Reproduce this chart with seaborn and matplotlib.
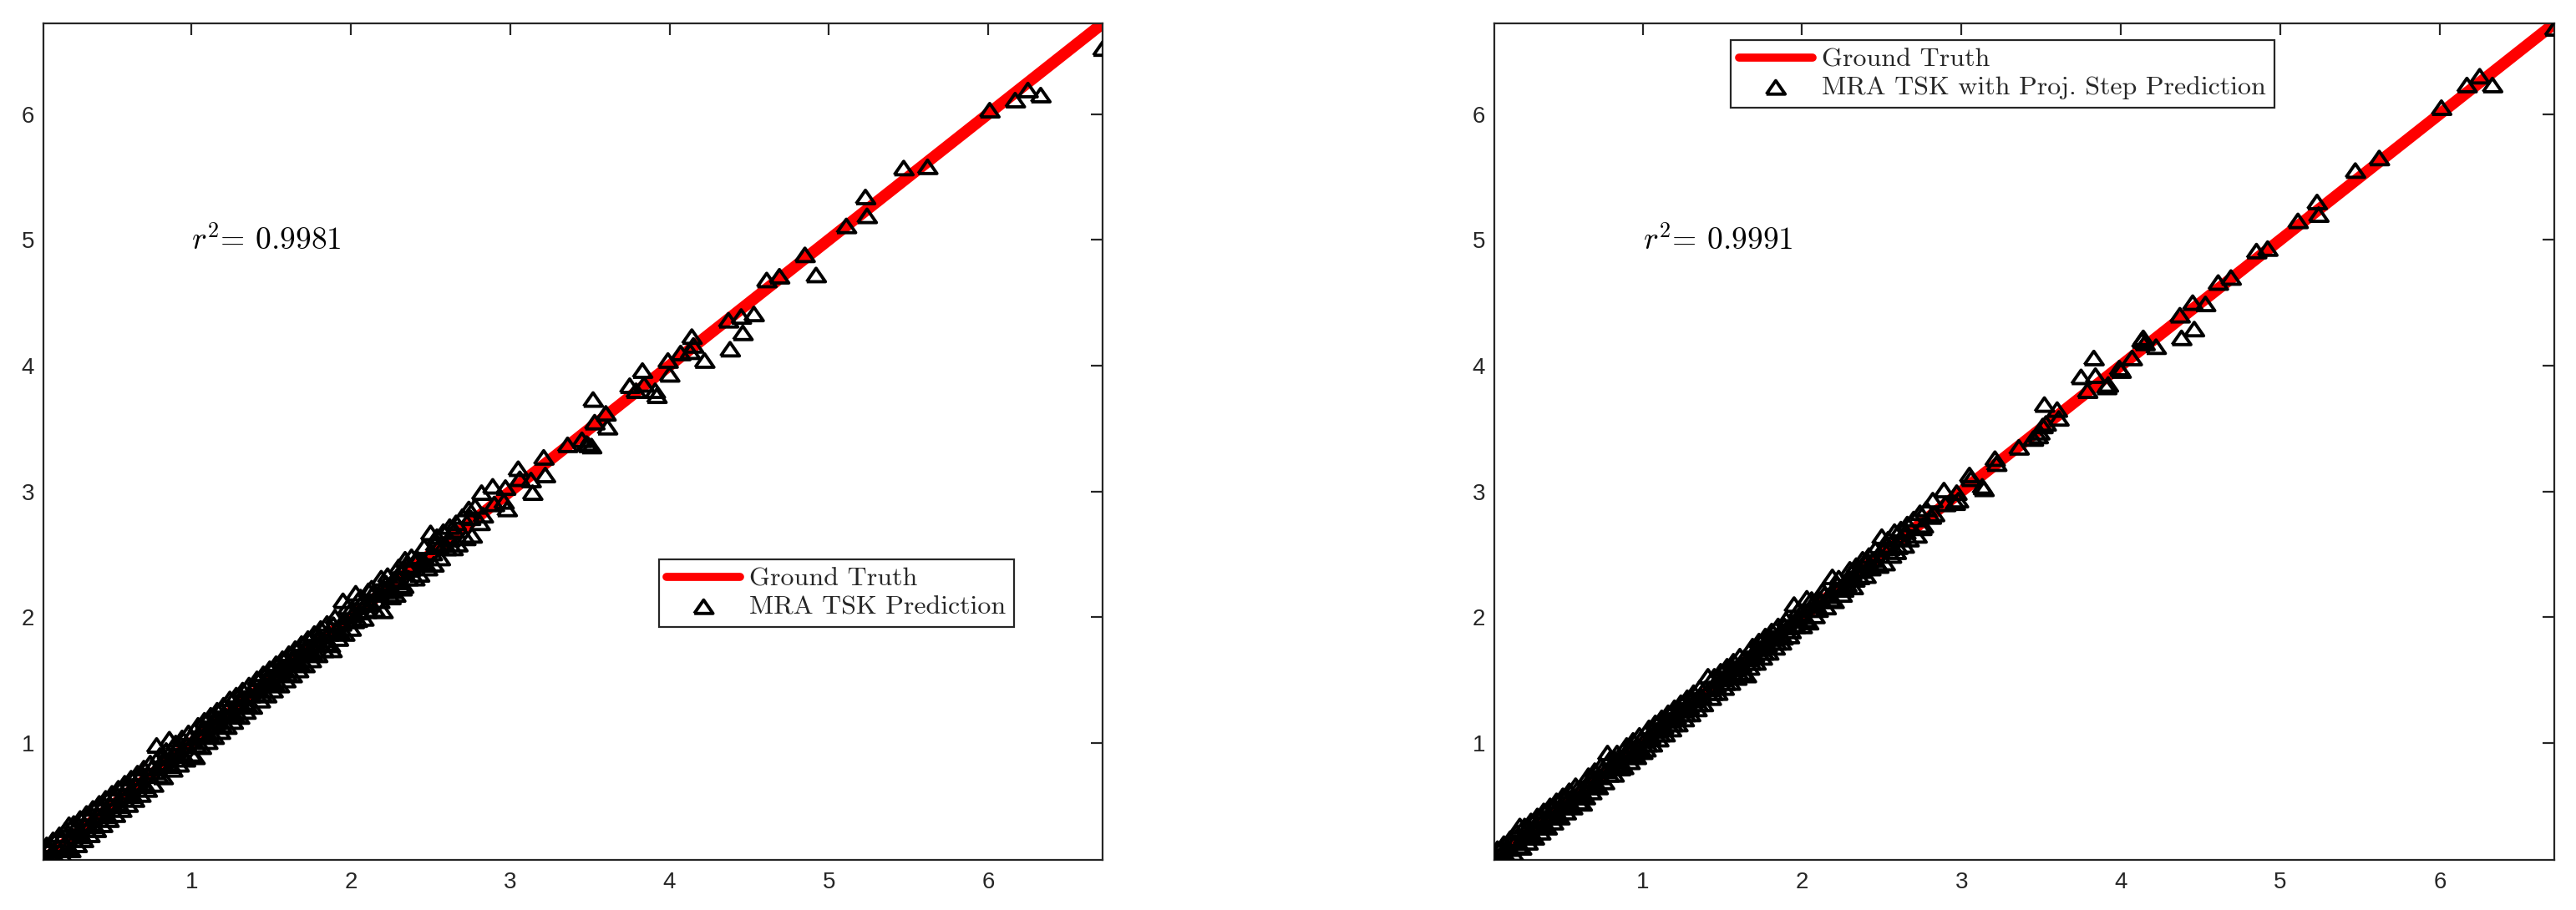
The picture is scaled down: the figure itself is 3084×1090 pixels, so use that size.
import matplotlib
matplotlib.use('Agg')
import matplotlib.pyplot as plt
import pandas as pd
import seaborn as sns

# ground truth values (shared by both panels) and the two sets of predictions
truth = [
    # dense low range, outer rows either side of the line
    0.07, 0.09, 0.11, 0.13, 0.15, 0.17, 0.19, 0.21, 0.23, 0.24,
    0.26, 0.28, 0.30, 0.32, 0.34, 0.36, 0.38, 0.40, 0.42, 0.44,
    0.46, 0.48, 0.50, 0.52, 0.54, 0.56, 0.58, 0.60, 0.62, 0.64,
    0.66, 0.68, 0.70, 0.72, 0.74, 0.76, 0.78, 0.80, 0.82, 0.84,
    0.86, 0.88, 0.90, 0.92, 0.94, 0.96, 0.98, 1.00, 1.02, 1.04,
    1.06, 1.08, 1.10, 1.12, 1.14, 1.16, 1.18, 1.20, 1.22, 1.24,
    1.26, 1.28, 1.30, 1.32, 1.34, 1.36, 1.38, 1.41, 1.43, 1.45,
    1.47, 1.49, 1.51, 1.53, 1.55, 1.57, 1.59, 1.61, 1.63, 1.65,
    1.67, 1.69, 1.71, 1.73, 1.75, 1.77, 1.79, 1.81, 1.83, 1.85,
    1.87, 1.90, 1.92, 1.98, 2.00, 2.06, 2.08, 2.13, 2.15, 2.23,
    2.25, 2.30, 2.32, 2.38, 2.40, 2.46, 2.48, 2.54, 2.56, 2.62,
    2.64, 2.70, 2.72, 2.78,
    # dense low range, inner rows
    0.10, 0.14, 0.18, 0.22, 0.27, 0.31, 0.35, 0.39, 0.43, 0.47,
    0.51, 0.55, 0.59, 0.63, 0.67, 0.71, 0.75, 0.79, 0.83, 0.87,
    0.91, 0.95, 0.99, 1.03, 1.07, 1.11, 1.15, 1.19, 1.23, 1.27,
    1.31, 1.35, 1.39, 1.44, 1.48, 1.52, 1.56, 1.60, 1.64, 1.68,
    1.72, 1.76, 1.80, 1.84, 1.89, 1.93, 1.99, 2.02, 2.07, 2.10,
    2.14, 2.18, 2.22, 2.26, 2.31, 2.36, 2.41, 2.47, 2.53, 2.60,
    # dense low range, close to the line
    0.08, 0.12, 0.16, 0.20, 0.25, 0.29, 0.33, 0.37, 0.41, 0.45,
    0.49, 0.53, 0.57, 0.61, 0.65, 0.69, 0.73, 0.77, 0.81, 0.85,
    0.89, 0.93, 0.97, 1.01, 1.05, 1.09, 1.13, 1.17, 1.21, 1.25,
    1.29, 1.33, 1.37, 1.42, 1.46, 1.50, 1.54, 1.58, 1.62, 1.66,
    1.70, 1.74, 1.78, 1.82, 1.86, 1.91, 1.94, 1.97, 2.01, 2.05,
    2.09, 2.12, 2.17, 2.21, 2.24, 2.29, 2.37, 2.45, 2.55, 2.62,
    # middle and upper range
    1.88, 1.96, 2.04, 1.95, 2.03, 2.11, 2.19, 2.27, 2.33, 2.28,
    2.20, 2.34, 2.35, 2.42, 2.51, 2.52, 2.43, 2.50, 2.58, 2.65,
    2.59, 2.67, 2.76, 2.74, 2.75, 2.83, 2.81, 2.66, 2.82, 2.89,
    2.97, 2.90, 2.96, 2.98, 3.05, 3.06, 3.13, 3.14, 3.21, 3.22,
    3.36, 3.45, 3.48, 3.49, 3.51, 3.52, 3.53, 3.60, 3.61, 3.75,
    3.79, 3.83, 3.84, 3.91, 3.92, 3.99, 4.00, 4.07, 4.13, 4.14,
    4.15, 4.22, 4.37, 4.38, 4.45, 4.46, 4.53, 4.61, 4.69, 4.85,
    4.92, 5.11, 5.23, 5.24, 5.47, 5.62, 6.01, 6.17, 6.25, 6.33,
    6.72,
]

pred_mra = [
    0.07, 0.19, 0.06, 0.23, 0.08, 0.27, 0.10, 0.31, 0.35, 0.15,
    0.36, 0.19, 0.40, 0.23, 0.44, 0.27, 0.48, 0.31, 0.52, 0.35,
    0.56, 0.39, 0.60, 0.43, 0.64, 0.47, 0.68, 0.51, 0.72, 0.55,
    0.76, 0.59, 0.80, 0.63, 0.84, 0.67, 0.98, 0.90, 0.73, 0.94,
    1.03, 0.79, 1.00, 0.83, 1.04, 0.87, 1.08, 0.91, 0.89, 1.14,
    0.97, 1.18, 1.01, 1.22, 1.05, 1.26, 1.09, 1.30, 1.13, 1.35,
    1.17, 1.38, 1.21, 1.42, 1.25, 1.46, 1.29, 1.51, 1.34, 1.55,
    1.38, 1.59, 1.42, 1.63, 1.46, 1.67, 1.50, 1.71, 1.54, 1.75,
    1.58, 1.79, 1.62, 1.83, 1.66, 1.87, 1.70, 1.91, 1.74, 1.95,
    1.78, 2.00, 1.83, 2.08, 1.91, 2.16, 1.99, 2.23, 2.06, 2.33,
    2.16, 2.40, 2.23, 2.48, 2.31, 2.56, 2.39, 2.64, 2.47, 2.72,
    2.55, 2.80, 2.63, 2.88,
    0.15, 0.09, 0.23, 0.17, 0.32, 0.26, 0.40, 0.34, 0.48, 0.42,
    0.56, 0.50, 0.64, 0.58, 0.72, 0.66, 0.80, 0.74, 0.88, 0.82,
    0.96, 0.90, 1.04, 0.98, 1.12, 1.06, 1.20, 1.14, 1.28, 1.22,
    1.36, 1.30, 1.44, 1.39, 1.53, 1.47, 1.61, 1.55, 1.69, 1.63,
    1.77, 1.71, 1.85, 1.79, 1.94, 1.88, 2.04, 1.97, 2.12, 2.05,
    2.19, 2.13, 2.27, 2.21, 2.36, 2.31, 2.46, 2.42, 2.58, 2.55,
    0.09, 0.12, 0.17, 0.19, 0.26, 0.29, 0.34, 0.36, 0.42, 0.45,
    0.50, 0.52, 0.58, 0.61, 0.66, 0.68, 0.74, 0.77, 0.82, 0.84,
    0.90, 0.92, 0.98, 1.01, 1.06, 1.08, 1.14, 1.17, 1.22, 1.24,
    1.30, 1.32, 1.38, 1.42, 1.47, 1.49, 1.55, 1.58, 1.63, 1.65,
    1.71, 1.73, 1.79, 1.82, 1.87, 1.90, 1.95, 1.97, 2.02, 2.04,
    2.10, 2.11, 2.18, 2.21, 2.25, 2.28, 2.38, 2.44, 2.56, 2.62,
    1.74, 1.87, 1.98, 2.13, 2.19, 2.21, 2.31, 2.30, 2.25, 2.18,
    2.05, 2.46, 2.41, 2.46, 2.51, 2.42, 2.34, 2.67, 2.68, 2.69,
    2.58, 2.58, 2.65, 2.86, 2.79, 2.81, 2.75, 2.75, 2.99, 3.04,
    3.03, 2.90, 2.92, 2.86, 3.18, 3.10, 3.09, 2.99, 3.27, 3.13,
    3.37, 3.41, 3.38, 3.37, 3.36, 3.73, 3.55, 3.62, 3.51, 3.84,
    3.80, 3.96, 3.85, 3.80, 3.76, 4.04, 3.93, 4.10, 4.11, 4.23,
    4.16, 4.04, 4.36, 4.13, 4.39, 4.26, 4.41, 4.68, 4.71, 4.88,
    4.72, 5.11, 5.34, 5.19, 5.57, 5.58, 6.03, 6.11, 6.19, 6.15,
    6.52,
]

pred_proj = [
    0.07, 0.16, 0.06, 0.20, 0.09, 0.24, 0.12, 0.29, 0.34, 0.17,
    0.34, 0.21, 0.38, 0.25, 0.42, 0.29, 0.46, 0.33, 0.50, 0.37,
    0.54, 0.41, 0.58, 0.45, 0.62, 0.49, 0.66, 0.53, 0.52, 0.57,
    0.74, 0.61, 0.78, 0.65, 0.82, 0.69, 0.92, 0.88, 0.75, 0.92,
    0.80, 0.81, 0.98, 0.85, 1.02, 0.89, 1.06, 0.93, 0.95, 1.12,
    0.99, 1.16, 1.03, 1.20, 1.07, 1.24, 1.11, 1.28, 1.15, 1.32,
    1.19, 1.36, 1.23, 1.40, 1.27, 1.44, 1.31, 1.53, 1.36, 1.53,
    1.40, 1.57, 1.44, 1.61, 1.48, 1.65, 1.52, 1.69, 1.56, 1.54,
    1.60, 1.77, 1.64, 1.81, 1.68, 1.85, 1.72, 1.89, 1.76, 1.93,
    1.80, 1.98, 1.85, 2.06, 1.93, 2.14, 2.01, 2.21, 2.08, 2.31,
    2.18, 2.38, 2.24, 2.46, 2.33, 2.54, 2.41, 2.62, 2.49, 2.70,
    2.57, 2.78, 2.65, 2.86,
    0.14, 0.10, 0.22, 0.18, 0.31, 0.27, 0.39, 0.35, 0.47, 0.43,
    0.55, 0.51, 0.63, 0.59, 0.71, 0.67, 0.79, 0.75, 0.87, 0.83,
    0.95, 0.91, 1.03, 0.99, 1.11, 1.07, 1.19, 1.15, 1.27, 1.23,
    1.35, 1.31, 1.43, 1.40, 1.52, 1.48, 1.60, 1.56, 1.68, 1.64,
    1.76, 1.72, 1.84, 1.80, 1.93, 1.89, 2.03, 1.98, 2.11, 2.06,
    2.18, 2.14, 2.26, 2.22, 2.35, 2.32, 2.45, 2.43, 2.57, 2.56,
    0.08, 0.13, 0.16, 0.21, 0.25, 0.30, 0.33, 0.38, 0.41, 0.46,
    0.49, 0.54, 0.57, 0.62, 0.65, 0.70, 0.73, 0.78, 0.81, 0.86,
    0.89, 0.94, 0.97, 1.02, 1.05, 1.10, 1.13, 1.18, 1.21, 1.26,
    1.29, 1.34, 1.37, 1.43, 1.46, 1.51, 1.54, 1.59, 1.62, 1.67,
    1.70, 1.75, 1.78, 1.83, 1.86, 1.92, 1.94, 1.98, 2.01, 2.06,
    2.09, 2.13, 2.17, 2.22, 2.24, 2.30, 2.37, 2.46, 2.55, 2.63,
    1.84, 1.93, 1.96, 2.10, 2.15, 2.14, 2.32, 2.24, 2.30, 2.26,
    2.13, 2.41, 2.37, 2.49, 2.55, 2.43, 2.39, 2.64, 2.68, 2.68,
    2.52, 2.62, 2.73, 2.83, 2.71, 2.82, 2.80, 2.74, 2.93, 3.01,
    2.99, 2.90, 2.91, 2.93, 3.13, 3.10, 3.04, 3.02, 3.26, 3.22,
    3.35, 3.42, 3.44, 3.47, 3.52, 3.69, 3.54, 3.65, 3.58, 3.91,
    3.80, 4.06, 3.92, 3.83, 3.85, 3.98, 3.96, 4.06, 4.20, 4.22,
    4.18, 4.15, 4.40, 4.22, 4.50, 4.29, 4.49, 4.66, 4.70, 4.91,
    4.93, 5.15, 5.30, 5.20, 5.55, 5.65, 6.05, 6.23, 6.30, 6.23,
    6.68,
]

pred_names = ['MRA TSK Prediction', 'MRA TSK with Proj. Step Prediction']
r2_values = ['0.9981', '0.9991']
ticks = [1, 2, 3, 4, 5, 6]

data = pd.DataFrame({'truth': truth, 'mra': pred_mra, 'proj': pred_proj})

sns.set_style('white')
plt.rcParams['font.family'] = ['Liberation Sans', 'DejaVu Sans']
plt.rcParams['mathtext.fontset'] = 'cm'
dark = '#262626'

fig = plt.figure(figsize=(30.84, 10.9), dpi=100)
ax1 = fig.add_axes([0.0169, 0.055, 0.4112, 0.9193])
ax2 = fig.add_axes([0.5801, 0.055, 0.4116, 0.9193])

# MATLAB-like open triangle (a bit wider than tall)
tri = [(-1, -0.72), (1, -0.72), (0, 0.72), (-1, -0.72)]

legend_pos = [(0.2558, 0.3853), (0.672, 0.956)]

for ax, col, name, r2, lpos in zip([ax1, ax2], ['mra', 'proj'], pred_names,
                                   r2_values, legend_pos):
    sns.lineplot(data=data, x='truth', y='truth', ax=ax, color='red',
                 linewidth=10, estimator=None, label='Ground Truth')
    sns.scatterplot(data=data, x='truth', y=col, ax=ax, marker=tri, s=260,
                    facecolors='none', edgecolor='black', linewidth=2.8,
                    label=name, zorder=3)

    lo, hi = min(truth), max(truth)
    ax.set_xlim(lo, hi)
    ax.set_ylim(lo, hi)
    ax.set_xticks(ticks)
    ax.set_yticks(ticks)
    ax.set_xlabel('')
    ax.set_ylabel('')
    for s in ax.spines.values():
        s.set_visible(True)
        s.set_color(dark)
        s.set_linewidth(1.6)
    ax.tick_params(axis='both', which='major', direction='in', top=True,
                   right=True, length=10, width=1.6, color=dark,
                   labelcolor=dark, labelsize=20)
    ax.tick_params(axis='x', pad=10)
    ax.tick_params(axis='y', pad=8)

    ax.text(1, 5, r'$r^2$= ' + r2, fontfamily='cmr10', fontsize=27,
            ha='left', va='center', color='black')

    handles, labels = ax.get_legend_handles_labels()
    leg = ax.legend(handles, labels, loc='upper left', bbox_to_anchor=lpos,
                    bbox_transform=fig.transFigure, borderaxespad=0,
                    prop={'family': 'cmr10', 'size': 23}, frameon=True,
                    fancybox=False, framealpha=1, edgecolor=dark,
                    handlelength=2.75, handletextpad=0.35, borderpad=0.3,
                    labelspacing=0.15, scatterpoints=1)
    leg.get_frame().set_linewidth(1.6)
    leg.get_lines()[0].set_linewidth(7)

fig.savefig('out.png', dpi=100)
